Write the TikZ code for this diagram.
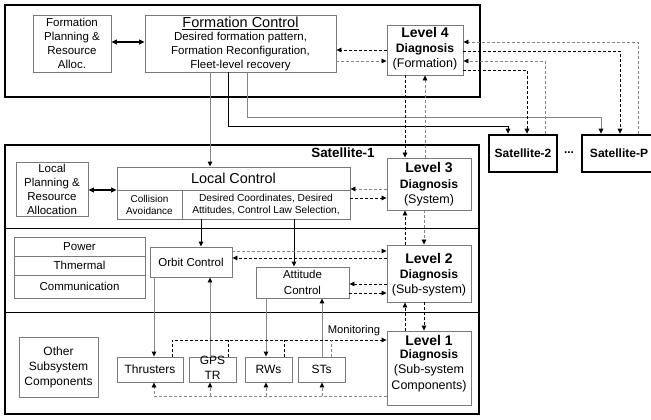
\documentclass[tikz,border=0pt]{standalone}
\usepackage{fontspec}
\setmainfont{Liberation Sans}
\usetikzlibrary{arrows.meta}
\definecolor{gbox}{HTML}{7A7A7A}
\definecolor{gline}{HTML}{858585}
\begin{document}
\begin{tikzpicture}[x=1pt,y=-1pt,
  box/.style={draw=gbox, line width=0.9pt, inner sep=0pt, align=center, font=\fontsize{11.5}{14}\selectfont},
  frame/.style={draw=black, line width=2.6pt, inner sep=0pt, align=center, font=\fontsize{12}{14}\selectfont\bfseries},
  txt/.style={inner sep=0pt, align=center, font=\fontsize{11.5}{14}\selectfont},
  lvA/.style={inner sep=0pt, font=\fontsize{14}{16}\selectfont\bfseries},
  lvB/.style={inner sep=0pt, font=\fontsize{12.2}{14}\selectfont\bfseries},
  lvC/.style={inner sep=0pt, font=\fontsize{12.5}{15}\selectfont},
  tip/.style={-{Triangle[length=5pt,width=4.6pt,color=black,fill=black]}},
  dbl/.style={line width=1.2pt, {Triangle[length=5.5pt,width=5pt]}-{Triangle[length=5.5pt,width=5pt]}},
  sol/.style={line width=1pt, tip},
  gsol/.style={sol, draw=gline},
  dshn/.style={line width=0.8pt, dash pattern=on 3pt off 2pt},
  gdshn/.style={dshn, draw=gline},
  dsh/.style={dshn, tip},
  gdsh/.style={gdshn, tip},
  divl/.style={line width=1pt}
]
\useasboundingbox (0,0) rectangle (651,420);
\fill[white] (0,0) rectangle (651,420);

% ---------- frames ----------
\node[frame, minimum width=475, minimum height=92] (topframe) at (242.5,51) {};
\node[frame, minimum width=474, minimum height=269] (sat1) at (242,279.5) {};
\draw[divl] (sat1.west |- 0,228) -- (sat1.east |- 0,228);
\draw[divl] (sat1.west |- 0,312) -- (sat1.east |- 0,312);
\node[inner sep=0pt, font=\fontsize{13.4}{15}\selectfont\bfseries] (sat1lbl) at (343,153) {Satellite-1};

\node[frame, minimum width=68, minimum height=37] (sat2) at (523,153.5) {Satellite-2};
\node[frame, minimum width=74, minimum height=37] (satp) at (619,153.5) {Satellite-P};
\node[inner sep=0pt, font=\fontsize{12}{14}\selectfont\bfseries] (dots) at (569,153) {...};

% ---------- formation level ----------
\node[box, minimum width=78, minimum height=57] (fp) at (72,43.5) {Formation\\Planning \&\\Resource\\Alloc.};
\node[box, minimum width=191, minimum height=57] (fc) at (240.5,43.5) {};
\node[inner sep=0pt, font=\fontsize{14.5}{17}\selectfont] (fct) at (240.5,23) {\underline{Formation Control}};
\node[txt] (fcb) at (240.5,52) {Desired formation pattern,\\Formation Reconfiguration,\\Fleet-level recovery};

\node[box, minimum width=76, minimum height=50] (l4) at (425,50) {};
\node[lvA] (l4a) at (425,32) {Level 4};
\node[lvB] (l4b) at (425,49) {Diagnosis};
\node[lvC] (l4c) at (425,64) {(Formation)};

% ---------- system level ----------
\node[box, minimum width=72, minimum height=54] (lp) at (52,189) {Local\\Planning \&\\Resource\\Allocation};
\node[box, minimum width=233, minimum height=52] (lc) at (233.5,193) {};
\draw[draw=gbox, line width=0.9pt] (lc.west |- 0,190) -- (lc.east |- 0,190);
\draw[draw=gbox, line width=0.9pt] (182,190) -- (lc.south -| 182,0);
\node[inner sep=0pt, font=\fontsize{14.4}{16}\selectfont] (lct) at (233.5,178) {Local Control};
\node[inner sep=0pt, align=center, font=\fontsize{10}{12}\selectfont] (lcca) at (149.5,204.5) {Collision\\Avoidance};
\node[inner sep=0pt, align=center, font=\fontsize{10.2}{12}\selectfont] (lcdc) at (266,204.5) {Desired Coordinates, Desired\\Attitudes, Control Law Selection,};

\node[box, minimum width=84, minimum height=52] (l3) at (429,184) {};
\node[lvA] (l3a) at (429,168) {Level 3};
\node[lvB] (l3b) at (429,185) {Diagnosis};
\node[lvC] (l3c) at (429,200) {(System)};

% ---------- subsystem level ----------
\node[box, minimum width=131, minimum height=19] (pw) at (79.5,246.5) {Power};
\node[box, minimum width=131, minimum height=19] (th) at (79.5,265.5) {Thmermal};
\node[box, minimum width=131, minimum height=23] (cm) at (79.5,286.5) {Communication};

\node[box, minimum width=82, minimum height=30] (oc) at (191,262) {Orbit Control};
\node[box, minimum width=93, minimum height=31, font=\fontsize{11.5}{15.5}\selectfont] (ac) at (302.5,282.5) {Attitude\\Control};

\node[box, minimum width=84, minimum height=57] (l2) at (429,273.5) {};
\node[lvA] (l2a) at (429,258) {Level 2};
\node[lvB] (l2b) at (429,275) {Diagnosis};
\node[lvC] (l2c) at (429,290) {(Sub-system)};

% ---------- component level ----------
\node[box, minimum width=79, minimum height=60, font=\fontsize{12}{15}\selectfont] (os) at (58.5,367) {Other\\Subsystem\\Components};
\node[box, minimum width=66, minimum height=25, font=\fontsize{12}{15}\selectfont] (thr) at (150,369.5) {Thrusters};
\node[box, minimum width=47, minimum height=25] (gps) at (212.5,369.5) {};
\node[inner sep=0pt, align=center, font=\fontsize{12}{15}\selectfont] (gpst) at (212.5,367.5) {GPS\\TR};
\node[box, minimum width=47, minimum height=25, font=\fontsize{12}{15}\selectfont] (rws) at (268.5,369.5) {RWs};
\node[box, minimum width=47, minimum height=25, font=\fontsize{12}{15}\selectfont] (sts) at (321.5,369.5) {STs};

\node[box, minimum width=84, minimum height=74] (l1) at (429,368) {};
\node[lvA] (l1a) at (429,340) {Level 1};
\node[lvB] (l1b) at (429,355) {Diagnosis};
\node[lvC] (l1c) at (429,370) {(Sub-system};
\node[lvC] (l1d) at (429,386) {Components)};

\node[inner sep=0pt, font=\fontsize{11.2}{13}\selectfont] (mon) at (354,331) {Monitoring};

% ---------- connectors: formation ----------
\draw[dbl] (fp.east |- 0,42) -- (fc.west |- 0,42);
\draw[dsh] (l4.west |- 0,50) -- (fc.east |- 0,50);
\draw[gdsh] (fc.east |- 0,61) -- (l4.west |- 0,61);
\draw[gsol] (fc.south -| 210,0) -- (lc.north -| 210,0);
\draw[sol] (fc.south -| 228,0) |- (508,126) -- (sat2.north -| 508,0);
\draw[gsol] (fc.south -| 247,0) |- (601,117) -- (satp.north -| 601,0);
\draw[dsh] (l4.east |- 0,70) -| (sat2.north -| 527,0);
\draw[gdsh] (sat2.north -| 545,0) |- (l4.east |- 0,61);
\draw[dsh] (l4.east |- 0,51) -| (satp.north -| 620,0);
\draw[gdsh] (satp.north -| 638,0) |- (l4.east |- 0,42);

% ---------- diagnosis chain ----------
\draw[dsh] (l4.south -| 405,0) -- (l3.north -| 405,0);
\draw[gdsh] (l3.north -| 425,0) -- (l4.south -| 425,0);
\draw[dsh] (l2.north -| 405,0) -- (l3.south -| 405,0);
\draw[gdsh] (l3.south -| 424,0) -- (l2.north -| 424,0);
\draw[dsh] (l1.north -| 405,0) -- (l2.south -| 405,0);
\draw[dsh] (l2.south -| 424,0) -- (l1.north -| 424,0);

% ---------- system level ----------
\draw[dbl] (lp.east |- 0,190) -- (lc.west |- 0,190);
\draw[gdsh] (l3.west |- 0,189) -- (lc.east |- 0,189);
\draw[dsh] (lc.east |- 0,198) -- (l3.west |- 0,198);
\draw[sol] (lc.south -| 201,0) -- (oc.north -| 201,0);
\draw[sol] (lc.south -| 294,0) -- (ac.north -| 294,0);

% ---------- subsystem level ----------
\draw[gdsh] (oc.east |- 0,251) -- (l2.west |- 0,251);
\draw[dsh] (l2.west |- 0,258) -- (oc.east |- 0,258);
\draw[dsh] (l2.west |- 0,284) -- (ac.east |- 0,284);
\draw[dsh] (ac.east |- 0,293) -- (l2.west |- 0,293);
\draw[gsol] (oc.south -| 154,0) -- (thr.north -| 154,0);
\draw[gsol] (gps.north -| 210,0) -- (oc.south -| 210,0);
\draw[gsol] (ac.south -| 266,0) -- (rws.north -| 266,0);
\draw[gsol] (sts.north -| 322,0) -- (ac.south -| 322,0);

% ---------- monitoring ----------
\coordinate (mg) at (228,340);
\coordinate (mr) at (284,340);
\coordinate (ms) at (331,340);
\draw[dsh] (thr.north -| 172,0) |- (l1.west |- 0,340);
\draw[dshn] (gps.north -| 228,0) -- (mg);
\draw[dshn] (rws.north -| 284,0) -- (mr);
\draw[gdshn] (sts.north -| 331,0) -- (ms);

% ---------- feedback ----------
\coordinate (fg) at (210,396);
\coordinate (fr) at (266,396);
\coordinate (fs) at (322,396);
\draw[gdsh] (l1.west |- 0,396) -| (thr.south -| 154,0);
\draw[gdsh] (fg) -- (gps.south -| 210,0);
\draw[gdsh] (fr) -- (rws.south -| 266,0);
\draw[gdsh] (fs) -- (sts.south -| 322,0);
\end{tikzpicture}
\end{document}
